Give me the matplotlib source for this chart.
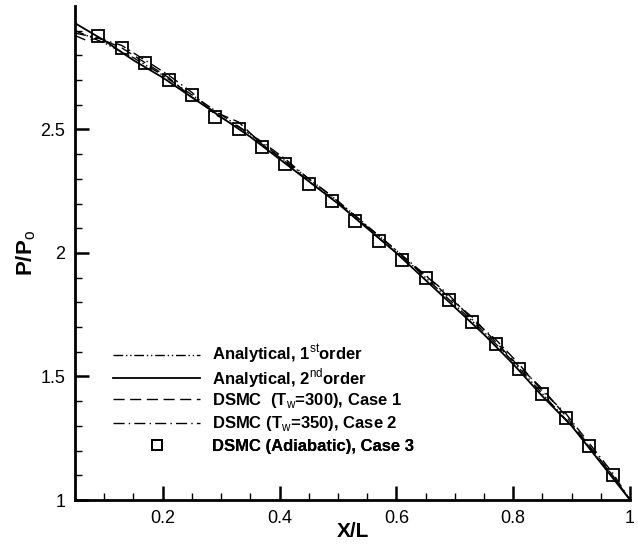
import numpy as np
import matplotlib.pyplot as plt
from matplotlib.ticker import MultipleLocator, FixedLocator

plt.rcParams['font.family'] = ['Liberation Sans', 'DejaVu Sans']
plt.rcParams['mathtext.fontset'] = 'custom'
plt.rcParams['mathtext.rm'] = 'Liberation Sans'
plt.rcParams['mathtext.bf'] = 'Liberation Sans:bold'

# analytical solutions
x_an = [0.05, 0.10, 0.15, 0.20, 0.25, 0.30, 0.35, 0.40, 0.45, 0.50,
        0.55, 0.60, 0.65, 0.70, 0.75, 0.80, 0.85, 0.90, 0.95, 1.00]
p_first = [2.90, 2.85, 2.79, 2.72, 2.64, 2.56, 2.48, 2.39, 2.30, 2.21,
           2.11, 2.01, 1.90, 1.79, 1.68, 1.56, 1.43, 1.30, 1.16, 1.00]
p_second = [2.93, 2.86, 2.78, 2.71, 2.63, 2.55, 2.47, 2.38, 2.29, 2.20,
            2.10, 2.00, 1.89, 1.78, 1.67, 1.55, 1.42, 1.30, 1.15, 1.00]

# DSMC cases
x_dsmc = [0.05, 0.07, 0.09, 0.13, 0.17, 0.21, 0.25, 0.29, 0.33, 0.37, 0.41, 0.45,
          0.49, 0.53, 0.57, 0.61, 0.65, 0.69, 0.73, 0.77, 0.81, 0.85,
          0.89, 0.93, 0.97, 1.00]
p_case1 = [2.88, 2.86, 2.87, 2.83, 2.77, 2.71, 2.63, 2.57, 2.53, 2.44, 2.37, 2.29,
           2.22, 2.15, 2.06, 1.98, 1.91, 1.82, 1.74, 1.64, 1.54, 1.45,
           1.34, 1.22, 1.10, 1.00]
p_case2 = [2.89, 2.88, 2.87, 2.84, 2.78, 2.72, 2.65, 2.56, 2.51, 2.45, 2.38, 2.30,
           2.23, 2.14, 2.07, 1.99, 1.91, 1.83, 1.73, 1.65, 1.55, 1.44,
           1.35, 1.23, 1.11, 1.00]
x_case3 = [0.09, 0.13, 0.17, 0.21, 0.25, 0.29, 0.33, 0.37, 0.41, 0.45, 0.49, 0.53,
           0.57, 0.61, 0.65, 0.69, 0.73, 0.77, 0.81, 0.85, 0.89, 0.93, 0.97]
p_case3 = [2.88, 2.83, 2.77, 2.70, 2.64, 2.55, 2.50, 2.43, 2.36, 2.28, 2.21, 2.13,
           2.05, 1.97, 1.90, 1.81, 1.72, 1.63, 1.53, 1.43, 1.33, 1.22, 1.10]

fig = plt.figure(figsize=(6.38, 5.46), dpi=100)
ax = fig.add_axes([0.1176, 0.0842, 0.87, 0.905])

ax.plot(x_an, p_first, color='black', lw=1.0, dashes=[7, 2, 1, 2, 1, 2],
        label=r'Analytical, 1$^{\rm st}$order')
ax.plot(x_an, p_second, color='black', lw=1.3, ls='-',
        label=r'Analytical, 2$^{\rm nd}$order')
ax.plot(x_dsmc, p_case1, color='black', lw=1.0, dashes=[8, 4],
        label=r'DSMC  (T$_{\rm w}$=300), Case 1')
ax.plot(x_dsmc, p_case2, color='black', lw=1.0, dashes=[8, 3, 1, 3],
        label=r'DSMC (T$_{\rm w}$=350), Case 2')
ax.plot(x_case3, p_case3, ls='none', marker='s', ms=9, mfc='none', mec='black',
        mew=1.3, label='DSMC (Adiabatic), Case 3')

ax.set_xlim(0.05, 1.0)
ax.set_ylim(1.0, 3.0)
ax.xaxis.set_major_locator(FixedLocator([0.2, 0.4, 0.6, 0.8, 1.0]))
ax.xaxis.set_minor_locator(MultipleLocator(0.05))
ax.yaxis.set_major_locator(FixedLocator([1.0, 1.5, 2.0, 2.5]))
ax.yaxis.set_minor_locator(FixedLocator(np.arange(1.0, 2.95, 0.1)))
ax.set_xticklabels(['0.2', '0.4', '0.6', '0.8', '1'])
ax.set_yticklabels(['1', '1.5', '2', '2.5'])

for s in ['top', 'right']:
    ax.spines[s].set_visible(False)
for s in ['left', 'bottom']:
    ax.spines[s].set_linewidth(2)
ax.tick_params(which='major', direction='in', length=10, width=1.8, labelsize=13, pad=7)
ax.tick_params(which='minor', direction='in', length=5, width=1.0)

ax.set_xlabel('X/L', fontsize=15, fontweight='bold')
ax.xaxis.set_label_coords(0.5, -0.044)
ax.set_ylabel(r'P/P$_{\rm o}$', fontsize=16, fontweight='bold', labelpad=2)

# one legend per row so the rows are evenly spaced
handles, labels = ax.get_legend_handles_labels()
row_y = [0.294, 0.2475, 0.201, 0.154, 0.108]
for h, lab, yy in zip(handles, labels, row_y):
    leg = ax.legend([h], [lab], loc='center left', bbox_to_anchor=(0.042, yy),
                    frameon=False, handlelength=5.2, handletextpad=0.7,
                    markerscale=0.85, prop={'weight': 'bold', 'size': 12})
    ax.add_artist(leg)

fig.savefig('out.png', dpi=100)
